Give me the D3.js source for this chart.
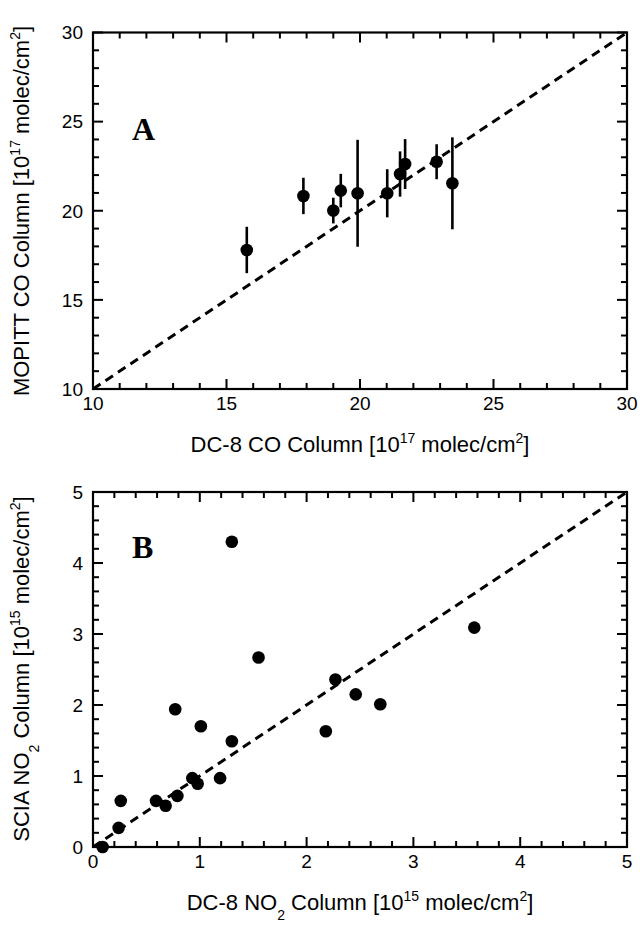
<!DOCTYPE html>
<html>
<head>
<meta charset="utf-8">
<script src="https://cdn.jsdelivr.net/npm/d3@7"></script>
<style>
  body { margin: 0; background: #fff; }
  text { font-family: "Liberation Sans", Arial, sans-serif; fill: #000; }
  .panelTag { font-family: "Liberation Serif", "Times New Roman", serif; font-weight: bold; }
</style>
</head>
<body>
<div id="chart"></div>
<script>
// Panel A: DC-8 vs MOPITT CO columns [10^17 molec/cm2]
var coDC8 = [15.76, 17.88, 19.00, 19.28, 19.91, 21.02, 21.50, 21.69, 22.87, 23.46];
var coMopitt = [17.80, 20.83, 20.01, 21.13, 20.98, 20.98, 22.06, 22.62, 22.75, 21.54];
var coMopittErr = [1.30, 1.02, 0.72, 0.94, 3.00, 1.35, 1.27, 1.40, 0.98, 2.58];
var coTicks = [10, 15, 20, 25, 30];

// Panel B: DC-8 vs SCIAMACHY NO2 columns [10^15 molec/cm2]
var no2DC8 = [0.09, 0.24, 0.26, 0.59, 0.68, 0.79, 0.93, 0.98, 1.19, 1.30, 1.01, 0.77, 1.30, 1.55, 2.18, 2.27, 2.46, 2.69, 3.57];
var no2Scia = [0.00, 0.27, 0.65, 0.65, 0.58, 0.72, 0.97, 0.89, 0.97, 1.49, 1.70, 1.94, 4.30, 2.67, 1.63, 2.36, 2.15, 2.01, 3.09];
var no2Ticks = [0, 1, 2, 3, 4, 5];

var svgWidth = 640;
var svgHeight = 927;

var svg = d3.select("#chart")
  .append("svg")
  .attr("width", svgWidth)
  .attr("height", svgHeight);

svg.append("rect")
  .attr("width", svgWidth)
  .attr("height", svgHeight)
  .attr("fill", "#fff");

// frame + ticks on all 4 sides, pointing inward
function drawFrame(g, x, y, majors, minorStep) {
  var x0 = x.range()[0], x1 = x.range()[1];
  var y0 = y.range()[0], y1 = y.range()[1];
  var d = x.domain();
  var minors = d3.range(d[0], d[1] + minorStep / 2, minorStep);

  var ticks = [];
  minors.forEach(function (v) {
    var isMajor = majors.some(function (m) { return Math.abs(m - v) < 1e-6; });
    ticks.push({ v: v, len: isMajor ? 10 : 6 });
  });

  var tg = g.append("g").attr("stroke", "#000").attr("stroke-width", 2);
  ticks.forEach(function (t) {
    var px = x(t.v);
    var py = y(t.v);
    tg.append("line").attr("x1", px).attr("x2", px).attr("y1", y0).attr("y2", y0 - t.len);
    tg.append("line").attr("x1", px).attr("x2", px).attr("y1", y1).attr("y2", y1 + t.len);
    tg.append("line").attr("y1", py).attr("y2", py).attr("x1", x0).attr("x2", x0 + t.len);
    tg.append("line").attr("y1", py).attr("y2", py).attr("x1", x1).attr("x2", x1 - t.len);
  });

  g.append("rect")
    .attr("x", x0)
    .attr("y", y1)
    .attr("width", x1 - x0)
    .attr("height", y0 - y1)
    .attr("fill", "none")
    .attr("stroke", "#000")
    .attr("stroke-width", 2.2);

  // tick labels
  g.selectAll(".xlab")
    .data(majors)
    .enter()
    .append("text")
    .attr("x", function (v) { return x(v); })
    .attr("y", y0 + 21)
    .attr("text-anchor", "middle")
    .attr("font-size", "19px")
    .text(function (v) { return v; });

  g.selectAll(".ylab")
    .data(majors)
    .enter()
    .append("text")
    .attr("x", x0 - 10)
    .attr("y", function (v) { return y(v); })
    .attr("dy", "0.36em")
    .attr("text-anchor", "end")
    .attr("font-size", "19px")
    .text(function (v) { return v; });
}

function oneToOne(g, x, y) {
  var d = x.domain();
  g.append("line")
    .attr("x1", x(d[0]))
    .attr("y1", y(d[0]))
    .attr("x2", x(d[1]))
    .attr("y2", y(d[1]))
    .attr("stroke", "#000")
    .attr("stroke-width", 3)
    .attr("stroke-dasharray", "9,6");
}

// axis title with superscripts / subscripts
function axisTitle(g, parts, px, py, rotate) {
  var t = g.append("text")
    .attr("text-anchor", "middle")
    .attr("font-size", "22px")
    .attr("transform", "translate(" + px + "," + py + ")" + (rotate ? " rotate(-90)" : ""));
  parts.forEach(function (p) {
    var s = t.append("tspan").text(p.t);
    if (p.sup) s.attr("font-size", "14px").attr("baseline-shift", "9px");
    if (p.sub) s.attr("font-size", "14px").attr("baseline-shift", "-10px");
  });
}

// Panel A
// ==============================
var xA = d3.scaleLinear().domain([10, 30]).range([93, 627]);
var yA = d3.scaleLinear().domain([10, 30]).range([389, 32.5]);
var gA = svg.append("g");

oneToOne(gA, xA, yA);

gA.selectAll(".errA")
  .data(coDC8)
  .enter()
  .append("line")
  .attr("x1", function (d) { return xA(d); })
  .attr("x2", function (d) { return xA(d); })
  .attr("y1", function (d, i) { return yA(coMopitt[i] - coMopittErr[i]); })
  .attr("y2", function (d, i) { return yA(coMopitt[i] + coMopittErr[i]); })
  .attr("stroke", "#000")
  .attr("stroke-width", 2.6);

gA.selectAll(".dotA")
  .data(coDC8)
  .enter()
  .append("circle")
  .attr("cx", function (d) { return xA(d); })
  .attr("cy", function (d, i) { return yA(coMopitt[i]); })
  .attr("r", 6.3)
  .attr("fill", "#000");

drawFrame(gA, xA, yA, coTicks, 1);

gA.append("text")
  .attr("class", "panelTag")
  .attr("x", 132)
  .attr("y", 140)
  .attr("font-size", "32px")
  .text("A");

axisTitle(gA, [{ t: "DC-8 CO Column [10" }, { t: "17", sup: true }, { t: " molec/cm" }, { t: "2", sup: true }, { t: "]" }], 360, 452, false);
axisTitle(gA, [{ t: "MOPITT CO Column [10" }, { t: "17", sup: true }, { t: " molec/cm" }, { t: "2", sup: true }, { t: "]" }], 29, 211, true);

// Panel B
// ==============================
var xB = d3.scaleLinear().domain([0, 5]).range([93, 627]);
var yB = d3.scaleLinear().domain([0, 5]).range([847, 492]);
var gB = svg.append("g");

oneToOne(gB, xB, yB);

gB.selectAll(".dotB")
  .data(no2DC8)
  .enter()
  .append("circle")
  .attr("cx", function (d) { return xB(d); })
  .attr("cy", function (d, i) { return yB(no2Scia[i]); })
  .attr("r", 6.3)
  .attr("fill", "#000");

drawFrame(gB, xB, yB, no2Ticks, 0.2);

gB.append("text")
  .attr("class", "panelTag")
  .attr("x", 132)
  .attr("y", 558)
  .attr("font-size", "32px")
  .text("B");

axisTitle(gB, [{ t: "DC-8 NO" }, { t: "2", sub: true }, { t: " Column [10" }, { t: "15", sup: true }, { t: " molec/cm" }, { t: "2", sup: true }, { t: "]" }], 360, 910, false);
axisTitle(gB, [{ t: "SCIA NO" }, { t: "2", sub: true }, { t: " Column [10" }, { t: "15", sup: true }, { t: " molec/cm" }, { t: "2", sup: true }, { t: "]" }], 29, 669, true);
</script>
</body>
</html>
